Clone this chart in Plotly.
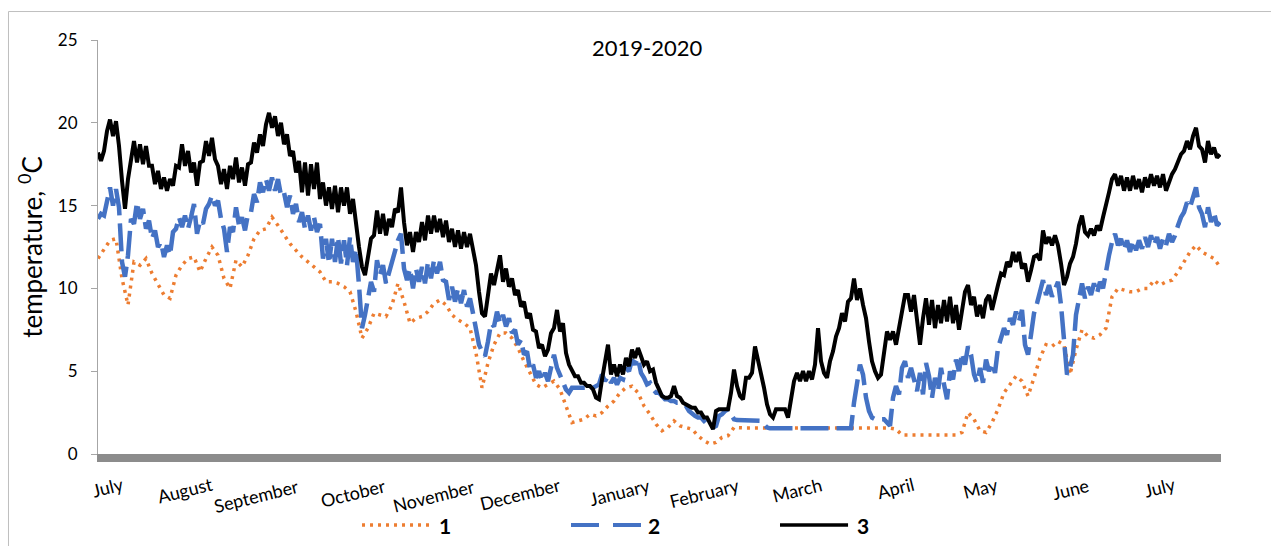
import plotly.graph_objects as go

# Water temperature at three measuring points over the 2019-2020 season.
# One sample per day of record; point 1 is stored every second day.
day = list(range(375))

temp_3 = [
    18.2, 17.7, 18.3, 19.5, 20.2, 19.2, 20.1, 18.6, 16.5, 14.8, 16.6, 17.8, 18.9, 17.6, 18.7,
    17.5, 18.6, 17.4, 17.4, 16.3, 17.1, 16.0, 16.7, 15.9, 16.6, 16.2, 17.4, 17.3, 18.7, 17.4,
    18.3, 17.0, 17.6, 16.2, 17.6, 17.7, 18.9, 18.0, 19.1, 17.8, 17.4, 16.3, 17.2, 16.0, 17.4,
    16.6, 17.9, 16.4, 17.3, 16.2, 17.5, 17.6, 18.8, 18.2, 19.3, 18.6, 19.9, 20.6, 19.7, 20.4,
    19.2, 20.0, 18.7, 19.3, 18.0, 18.3, 17.0, 17.7, 15.8, 17.6, 15.6, 17.5, 16.0, 17.6, 15.4,
    16.4, 15.0, 16.1, 14.8, 16.2, 14.6, 16.1, 15.0, 16.1, 14.5, 15.4, 13.8, 12.5, 11.3, 10.8,
    11.9, 13.0, 13.2, 14.7, 13.3, 14.5, 13.2, 14.2, 13.7, 14.8, 14.6, 16.1, 14.0, 12.6, 13.4,
    12.2, 13.4, 12.8, 14.0, 12.9, 14.4, 13.3, 14.4, 13.4, 14.2, 13.1, 14.1, 12.8, 13.6, 12.5,
    13.5, 12.4, 13.4, 12.5, 13.3, 12.3, 11.4, 9.8, 8.5, 8.3, 9.5, 10.9, 10.2, 11.2, 12.0,
    10.4, 11.2, 10.1, 10.6, 9.6, 9.9, 8.9, 9.2, 8.2, 8.5, 7.5, 7.4, 6.4, 6.6, 5.9,
    6.3, 7.3, 7.6, 8.7, 7.4, 7.9, 6.1, 5.4, 5.0, 4.7, 4.7, 4.3, 4.3, 4.1, 4.1,
    3.9, 3.4, 3.3, 4.5, 5.6, 6.6, 4.8, 5.4, 4.7, 5.4, 4.8, 5.8, 5.3, 6.3, 5.8,
    6.4, 5.9, 5.4, 5.6, 5.0, 5.1, 4.3, 3.9, 3.5, 3.4, 3.4, 3.5, 4.1, 3.5, 3.4,
    3.1, 3.0, 2.9, 2.8, 2.8, 2.5, 2.5, 2.2, 2.2, 1.9, 1.5, 2.6, 2.7, 2.7, 2.7,
    2.7, 3.7, 5.1, 4.1, 3.5, 3.3, 4.6, 4.6, 4.9, 6.5, 5.7, 4.8, 4.0, 3.0, 2.4,
    2.2, 2.7, 2.7, 2.7, 2.7, 2.2, 3.2, 4.4, 4.9, 4.4, 5.0, 4.4, 5.0, 4.5, 5.4,
    7.6, 5.6, 4.9, 4.6, 5.6, 6.2, 7.1, 7.6, 8.5, 8.0, 9.2, 9.4, 10.6, 9.3, 10.0,
    9.0, 8.2, 6.8, 5.6, 5.0, 4.6, 4.8, 6.0, 7.4, 6.9, 7.4, 6.6, 7.6, 8.4, 9.6,
    9.6, 8.6, 9.6, 7.9, 6.6, 8.2, 9.4, 7.8, 9.3, 7.6, 9.0, 7.9, 9.3, 8.0, 9.5,
    7.9, 9.0, 7.5, 8.6, 9.8, 10.2, 9.0, 9.5, 8.3, 9.0, 8.2, 9.3, 9.6, 8.7, 9.6,
    10.2, 10.9, 10.8, 11.6, 11.3, 12.2, 11.6, 12.2, 11.2, 11.5, 10.4, 11.1, 11.9, 12.0, 11.7,
    13.5, 12.7, 13.1, 12.6, 13.2, 12.6, 11.5, 10.2, 10.7, 11.5, 11.9, 12.7, 13.8, 14.4, 13.4,
    13.2, 13.6, 13.2, 13.8, 13.5, 14.3, 15.2, 15.8, 16.6, 16.9, 16.2, 16.8, 15.9, 16.7, 15.9,
    16.8, 16.0, 16.6, 15.8, 16.7, 16.1, 16.9, 16.2, 16.8, 16.1, 16.9, 15.9, 16.4, 16.9, 17.2,
    17.6, 18.1, 18.3, 18.9, 18.4, 19.2, 19.7, 18.6, 18.4, 17.6, 18.9, 18.1, 18.5, 17.9, 18.1,
]

temp_2 = [
    14.2, 14.5, 14.4, 15.3, 16.1, 15.0, 16.0, 14.9, 11.6, 10.7, 12.0, 14.2, 13.9, 15.2, 14.2,
    14.8, 13.6, 14.1, 13.0, 13.5, 12.5, 12.8, 11.9, 12.6, 12.0, 13.4, 13.6, 14.3, 13.7, 14.4,
    13.6, 14.3, 15.1, 13.3, 14.1, 13.9, 14.8, 15.1, 15.6, 15.0, 15.3, 14.2, 13.6, 12.2, 13.7,
    13.4, 14.9, 13.8, 14.3, 13.5, 14.5, 14.6, 15.7, 15.2, 16.4, 15.8, 16.6, 15.9, 16.7, 15.9,
    16.6, 15.6, 15.8, 14.9, 15.6, 14.5, 15.1, 14.0, 14.6, 13.6, 14.4, 13.5, 14.3, 13.4, 13.9,
    11.8, 13.0, 11.5, 13.0, 11.6, 13.1, 11.5, 12.9, 11.4, 13.1, 11.6, 12.4, 10.2, 7.6, 8.4,
    9.6, 10.4, 9.8, 11.7, 10.8, 11.4, 10.3, 11.0, 11.6, 12.3, 12.9, 13.3, 11.2, 10.5, 11.2,
    10.0, 11.2, 10.4, 11.3, 10.3, 11.6, 10.6, 11.7, 10.9, 11.6, 10.5, 10.4, 9.3, 10.1, 9.2,
    10.0, 9.1, 9.9, 8.9, 9.4, 8.5, 7.6, 6.6, 6.2, 5.9, 6.8, 7.9, 7.7, 8.6, 7.9,
    8.4, 7.7, 8.2, 7.3, 7.5, 6.6, 6.9, 6.0, 6.2, 5.1, 5.4, 4.6, 5.0, 4.4, 4.9,
    4.4, 5.3, 6.0, 5.2, 4.8, 4.4, 3.9, 3.7, 4.0, 4.0, 4.0, 4.0, 4.0, 4.0, 4.0,
    4.0, 4.1, 4.2, 4.8, 4.4, 4.7, 4.3, 4.6, 4.2, 4.6, 4.5, 5.2, 5.0, 5.7, 5.4,
    5.8, 4.9, 4.6, 4.2, 4.3, 3.9, 3.7, 3.7, 3.5, 3.3, 3.3, 3.2, 3.2, 3.1, 3.1,
    3.0, 2.9, 2.6, 2.4, 2.3, 2.2, 2.2, 2.0, 1.8, 1.6, 1.6, 1.7, 2.3, 2.4, 2.6,
    2.7, 2.4, 2.1, 2.05, 2.05, 2.05, 2.05, 2.05, 2.05, 2.05, 2.05, 2.0, 1.8, 1.6, 1.55,
    1.55, 1.55, 1.55, 1.55, 1.55, 1.55, 1.55, 1.55, 1.55, 1.55, 1.55, 1.55, 1.55, 1.55, 1.55,
    1.55, 1.55, 1.55, 1.55, 1.55, 1.55, 1.55, 1.55, 1.55, 1.55, 1.55, 1.55, 3.1, 4.2, 5.4,
    4.8, 3.4, 2.6, 2.2, 2.1, 2.1, 2.1, 2.1, 1.9, 1.7, 3.4, 4.1, 3.6, 5.2, 5.6,
    4.6, 5.2, 4.4, 3.8, 4.9, 3.6, 5.5, 4.7, 3.4, 4.6, 3.8, 5.2, 4.2, 3.3, 5.0,
    4.5, 5.7, 5.0, 6.1, 5.4, 6.5, 6.0, 4.8, 4.3, 5.2, 4.3, 5.7, 5.0, 5.5, 4.9,
    6.4, 7.0, 7.6, 7.2, 8.2, 7.8, 8.6, 8.0, 8.7, 6.6, 6.0, 7.2, 8.5, 9.1, 9.7,
    10.5, 9.6, 10.2, 9.5, 10.0, 10.4, 9.0, 6.5, 4.8, 5.2, 6.0, 8.4, 9.4, 10.3, 9.4,
    10.1, 9.6, 10.3, 9.7, 10.4, 10.0, 11.2, 12.0, 12.8, 13.3, 12.6, 13.0, 12.3, 12.9, 12.2,
    12.9, 12.3, 12.9, 12.4, 13.1, 12.5, 13.2, 12.6, 13.1, 12.4, 13.0, 12.6, 13.3, 12.8, 13.2,
    13.8, 14.3, 14.6, 15.2, 14.9, 15.5, 16.1, 14.9, 14.5, 13.7, 14.9, 14.0, 14.6, 13.8, 14.0,
]

temp_1 = [
    11.8, 12.4, 12.9, 13.0, 10.6, 9.0, 11.6, 11.4, 11.8, 10.9, 10.3, 9.6, 9.4, 10.8, 11.4,
    11.8, 11.9, 11.0, 11.8, 12.5, 12.0, 10.6, 10.0, 11.7, 11.3, 12.0, 13.0, 13.5, 13.6, 14.3,
    13.8, 13.2, 12.7, 12.3, 11.9, 11.6, 11.3, 11.0, 10.4, 10.4, 10.3, 10.1, 9.8, 8.6, 7.0,
    7.6, 8.5, 8.4, 8.3, 9.0, 10.3, 9.2, 7.9, 8.2, 8.3, 8.6, 9.1, 9.3, 9.0, 8.4,
    8.1, 7.9, 7.6, 6.1, 4.0, 5.5, 6.6, 7.3, 7.3, 7.0, 6.4, 5.6, 4.9, 4.2, 4.0,
    4.2, 4.4, 3.9, 2.9, 1.9, 2.0, 2.1, 2.4, 2.3, 2.5, 2.9, 3.2, 3.7, 4.0, 4.1,
    3.7, 2.9, 2.4, 1.8, 1.4, 1.6, 2.0, 1.7, 1.6, 1.5, 1.1, 0.8, 0.6, 0.7, 1.0,
    1.1, 1.6, 1.57, 1.57, 1.57, 1.57, 1.57, 1.57, 1.57, 1.57, 1.57, 1.57, 1.57, 1.57, 1.57,
    1.57, 1.57, 1.57, 1.57, 1.57, 1.57, 1.57, 1.57, 1.57, 1.57, 1.57, 1.57, 1.57, 1.5, 1.15,
    1.15, 1.15, 1.15, 1.15, 1.15, 1.15, 1.15, 1.15, 1.15, 1.3, 2.5, 2.1, 1.4, 1.3, 1.9,
    2.7, 3.7, 4.2, 4.7, 4.4, 3.5, 4.6, 5.8, 6.6, 6.5, 6.8, 6.6, 4.8, 6.3, 7.5,
    7.1, 7.0, 7.2, 7.6, 9.5, 10.0, 9.9, 9.8, 9.8, 10.0, 10.0, 10.5, 10.2, 10.4, 10.5,
    11.0, 11.6, 12.2, 12.6, 12.2, 12.0, 11.8, 11.3,
]
day_1 = day[::2]

series_names = ["1", "2", "3"]
y_ticks = [0, 5, 10, 15, 20, 25]

month_labels = ["July", "August", "September", "October", "November", "December",
                "January", "February", "March", "April", "May", "June", "July"]
# day of record at which each month label is centred
month_day = [3.3, 29, 52.7, 85, 111.7, 140.7, 174, 202, 233, 265.7, 294.3, 324.3, 354]

# styling
colors = ["#ED7D31", "#4472C4", "#000000"]
trace_dashes = ["3px,5px", "28px,8px", "solid"]
legend_dashes = ["3px,5px", "28px,14px", "solid"]
trace_widths = [3.5, 4.5, 4]
legend_widths = [3.5, 4, 3.5]
label_drop = [-33, -36, -42, -39, -42, -40, -38, -39, -36, -34, -34, -35, -33]
FONT = "Lato, 'Open Sans', sans-serif"

fig = go.Figure()
for x, y, name, c, d, w in zip([day_1, day, day], [temp_1, temp_2, temp_3],
                               series_names, colors, trace_dashes, trace_widths):
    fig.add_trace(go.Scatter(x=x, y=y, mode="lines", name=name,
                             line=dict(color=c, dash=d, width=w),
                             showlegend=False))

# month labels under the axis
for lab, xd, dy in zip(month_labels, month_day, label_drop):
    fig.add_annotation(x=xd, xref="x", y=0, yref="paper", yshift=dy,
                       text=lab, showarrow=False, textangle=-14,
                       xanchor="center", yanchor="middle",
                       font=dict(family=FONT, size=18, color="#000000"))

# legend row: sample line + bold label
legend_x = [(0.2351, 0.2974, 0.309), (0.4212, 0.4835, 0.4951), (0.6073, 0.6679, 0.6812)]
for (x0, x1, xt), name, c, d, w in zip(legend_x, series_names, colors,
                                       legend_dashes, legend_widths):
    fig.add_shape(type="line", xref="paper", yref="paper", x0=x0, x1=x1,
                  y0=-0.1715, y1=-0.1715, line=dict(color=c, dash=d, width=w))
    fig.add_annotation(x=xt, xref="paper", y=-0.1715, yref="paper", text="<b>%s</b>" % name,
                       showarrow=False, xanchor="center", yanchor="middle",
                       font=dict(family=FONT, size=21, color="#000000"))

# chart-area frame
fig.add_shape(type="rect", xref="paper", yref="paper", x0=-0.0797, x1=1.05,
              y0=-0.24, y1=1.0688, line=dict(color="#BFBFBF", width=1),
              fillcolor="rgba(0,0,0,0)", layer="below")

fig.update_layout(
    width=1271, height=546,
    margin=dict(l=98, r=50, t=40, b=92),
    paper_bgcolor="white", plot_bgcolor="white",
    font=dict(family=FONT, color="#000000"),
    showlegend=False,
    title=dict(text="2019-2020", x=0.489, xref="paper", xanchor="center",
               y=0.911, yref="container", yanchor="middle",
               font=dict(family=FONT, size=22, color="#000000")),
    xaxis=dict(range=[0, 374.33], showgrid=False, zeroline=False,
               showticklabels=False, ticks="", showline=True,
               linewidth=8, linecolor="#8C8C8C"),
    yaxis=dict(range=[0, 25], tickvals=y_ticks, showgrid=False, zeroline=False,
               showline=True, linewidth=1, linecolor="#A6A6A6",
               ticks="outside", ticklen=6, tickcolor="#A6A6A6",
               tickfont=dict(family=FONT, size=17, color="#000000"),
               ticklabelstandoff=10,
               title=dict(text="temperature, <sup>0</sup>C", standoff=7,
                          font=dict(family=FONT, size=26, color="#000000"))),
)

fig.write_html("out.html")
